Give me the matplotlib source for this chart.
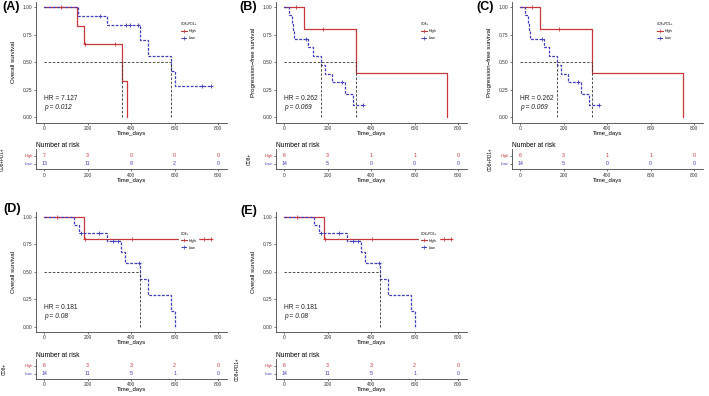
import matplotlib
matplotlib.use('Agg')
import numpy as np
import matplotlib.pyplot as plt
from matplotlib.lines import Line2D

plt.rcParams['font.family'] = ['Liberation Sans', 'DejaVu Sans']

RED = '#C8373A'
BLUE = '#3D3DBF'
GREY = '#444444'

# ---- data ----
# (A) overall survival, CD8+PD1+
a_high_t = [0, 150, 185, 359, 380]
a_high_s = [1.0, 0.833, 0.667, 0.333, 0.0]
a_high_cens = [78, 190, 326]
a_low_t = [0, 155, 288, 441, 477, 584, 600]
a_low_s = [1.0, 0.923, 0.839, 0.699, 0.559, 0.419, 0.280]
a_low_cens = [257, 377, 395, 431, 725, 768]
a_risk_high = [7, 3, 0, 0, 0]
a_risk_low = [13, 11, 8, 2, 0]

# (B) / (C) progression-free survival
b_high_t = [0, 93, 331, 748]
b_high_s = [1.0, 0.8, 0.4, 0.0]
b_high_cens = [54, 181]
b_low_t = [0, 24, 35, 40, 47, 112, 132, 170, 188, 219, 280, 318]
b_low_s = [1.0, 0.929, 0.857, 0.786, 0.714, 0.635, 0.556, 0.476, 0.397, 0.317, 0.212, 0.106]
b_low_cens = [100, 268, 364]
b_risk_high = [6, 3, 1, 1, 0]
b_risk_low = [14, 5, 0, 0, 0]

# (D) / (E) overall survival
d_high_t = [0, 182]
d_high_s = [1.0, 0.8]
d_high_cens = [58, 190, 403, 737, 768]
d_low_t = [0, 137, 160, 288, 354, 374, 441, 477, 584, 600]
d_low_s = [1.0, 0.929, 0.857, 0.779, 0.682, 0.584, 0.438, 0.292, 0.146, 0.0]
d_low_cens = [170, 254, 319, 339, 438]
d_risk_high = [6, 3, 3, 2, 0]
d_risk_low = [14, 11, 5, 1, 0]

risk_times = [0, 200, 400, 600, 800]

panels = [
    dict(tag='(A)', left=36, top=2, tag_xy=(2, 7), ylab='Overall survival', group='CD8+PD1+',
         hr='7.127', p='0.012', high=(a_high_t, a_high_s, a_high_cens),
         low=(a_low_t, a_low_s, a_low_cens), risk=(a_risk_high, a_risk_low), rlab_x=5),
    dict(tag='(B)', left=276, top=2, tag_xy=(239, 7), ylab='Progression\u2212free survival', group='CD8+',
         hr='0.262', p='0.069', high=(b_high_t, b_high_s, b_high_cens),
         low=(b_low_t, b_low_s, b_low_cens), risk=(b_risk_high, b_risk_low), rlab_x=252),
    dict(tag='(C)', left=512, top=2, tag_xy=(476, 7), ylab='Progression\u2212free survival', group='CD8+PD1+',
         hr='0.262', p='0.069', high=(b_high_t, b_high_s, b_high_cens),
         low=(b_low_t, b_low_s, b_low_cens), risk=(b_risk_high, b_risk_low), rlab_x=493),
    dict(tag='(D)', left=36, top=211.5, tag_xy=(3, 209), ylab='Overall survival', group='CD8+',
         hr='0.181', p='0.08', high=(d_high_t, d_high_s, d_high_cens),
         low=(d_low_t, d_low_s, d_low_cens), risk=(d_risk_high, d_risk_low), rlab_x=7),
    dict(tag='(E)', left=276, top=211.5, tag_xy=(240, 211), ylab='Overall survival', group='CD8+PD1+',
         hr='0.181', p='0.08', high=(d_high_t, d_high_s, d_high_cens),
         low=(d_low_t, d_low_s, d_low_cens), risk=(d_risk_high, d_risk_low), rlab_x=240),
]

W, H = 709, 396
AX_W, AX_H = 191, 120.5
RISK_H = 20
XLIM = (-37, 841)

fig = plt.figure(figsize=(W / 100, H / 100), dpi=100)


def rect(left, top, w, h):
    return [left / W, 1 - (top + h) / H, w / W, h / H]


def style_axes(ax):
    for s in ['top', 'right']:
        ax.spines[s].set_visible(False)
    for s in ['left', 'bottom']:
        ax.spines[s].set_color(GREY)
        ax.spines[s].set_linewidth(0.6)
    ax.tick_params(length=1.5, width=0.5, color=GREY, pad=1, labelsize=3.5, labelcolor='#333333')


def median_time(t, s):
    for ti, si in zip(t, s):
        if si <= 0.5:
            return ti
    return None


def draw_curve(ax, t, s, cens, color, ls):
    end = max([t[-1]] + list(cens))
    x = list(t) + [end]
    y = list(s) + [s[-1]]
    ax.step(x, y, where='post', color=color, lw=0.9, ls=ls, zorder=3)
    idx = np.searchsorted(t, cens, side='right') - 1
    ax.plot(cens, np.array(s)[idx], ls='none', marker='+', ms=3, mew=0.6, color=color, zorder=4)


for pn in panels:
    ax = fig.add_axes(rect(pn['left'], pn['top'], AX_W, AX_H))
    style_axes(ax)
    draw_curve(ax, *pn['high'], RED, '-')
    draw_curve(ax, *pn['low'], BLUE, (0, (2.2, 1.2)))

    meds = [m for m in (median_time(*pn['high'][:2]), median_time(*pn['low'][:2])) if m is not None]
    if meds:
        ax.plot([0, max(meds)], [0.5, 0.5], ls=(0, (3, 2)), color='#333333', lw=0.6, zorder=5)
        for m in meds:
            ax.plot([m, m], [0, 0.5], ls=(0, (3, 2)), color='#333333', lw=0.6, zorder=5)

    ax.set_xlim(*XLIM)
    ax.set_ylim(-0.05, 1.05)
    ax.set_xticks(risk_times)
    ax.set_yticks([0, 0.25, 0.5, 0.75, 1.0], ['0.00', '0.25', '0.50', '0.75', '1.00'])
    ax.set_xlabel('Time_days', fontsize=4.3, labelpad=0)
    ax.set_ylabel(pn['ylab'], fontsize=4.4)
    ax.yaxis.set_label_coords(-0.105, 0.5)

    ax.text(0, 0.17, f"HR = {pn['hr']}", fontsize=4.8, color='#222222', va='center')
    ax.text(0, 0.09, f"p = {pn['p']}", fontsize=4.8, color='#222222', va='center', style='italic')

    handles = [Line2D([], [], color=RED, lw=0.8, marker='+', ms=2.5, mew=0.5),
               Line2D([], [], color=BLUE, lw=0.8, ls=(0, (2, 1)), marker='+', ms=2.5, mew=0.5)]
    leg = ax.legend(handles, ['High', 'Low'], title=pn['group'], loc='upper left',
                    bbox_to_anchor=(0.74, 0.86), fontsize=2.7, title_fontsize=2.3,
                    frameon=True, fancybox=False, framealpha=1, facecolor='white',
                    edgecolor='white', handlelength=1.6, handletextpad=0.6,
                    labelspacing=0.8, borderpad=0.4)
    leg._legend_box.align = 'left'
    leg.set_zorder(6)

    fig.text(pn['tag_xy'][0] / W, 1 - pn['tag_xy'][1] / H, pn['tag'], fontsize=9,
             fontweight='bold', va='center', ha='left')

    # risk table
    rax = fig.add_axes(rect(pn['left'], pn['top'] + 167.5 - RISK_H, AX_W, RISK_H))
    style_axes(rax)
    rax.set_xlim(*XLIM)
    rax.set_ylim(0.3125, 2.8125)
    rax.set_xticks(risk_times)
    rax.set_yticks([2, 1], ['High', 'Low'])
    rax.tick_params(axis='y', labelsize=3)
    for lab, c in zip(rax.get_yticklabels(), [RED, BLUE]):
        lab.set_color(c)
    risk_high, risk_low = pn['risk']
    for xt, nh, nl in zip(risk_times, risk_high, risk_low):
        rax.text(xt, 2, str(nh), color=RED, fontsize=3.8, ha='center', va='center')
        rax.text(xt, 1, str(nl), color=BLUE, fontsize=3.8, ha='center', va='center')
    rax.set_title('Number at risk', loc='left', fontsize=4.8, pad=1.5)
    rax.set_xlabel('Time_days', fontsize=4.3, labelpad=0)
    rax.set_ylabel(pn['group'], fontsize=3.3)
    rax.yaxis.set_label_coords((pn['rlab_x'] - pn['left']) / AX_W, 0.5)

fig.savefig('out.png', dpi=100)
